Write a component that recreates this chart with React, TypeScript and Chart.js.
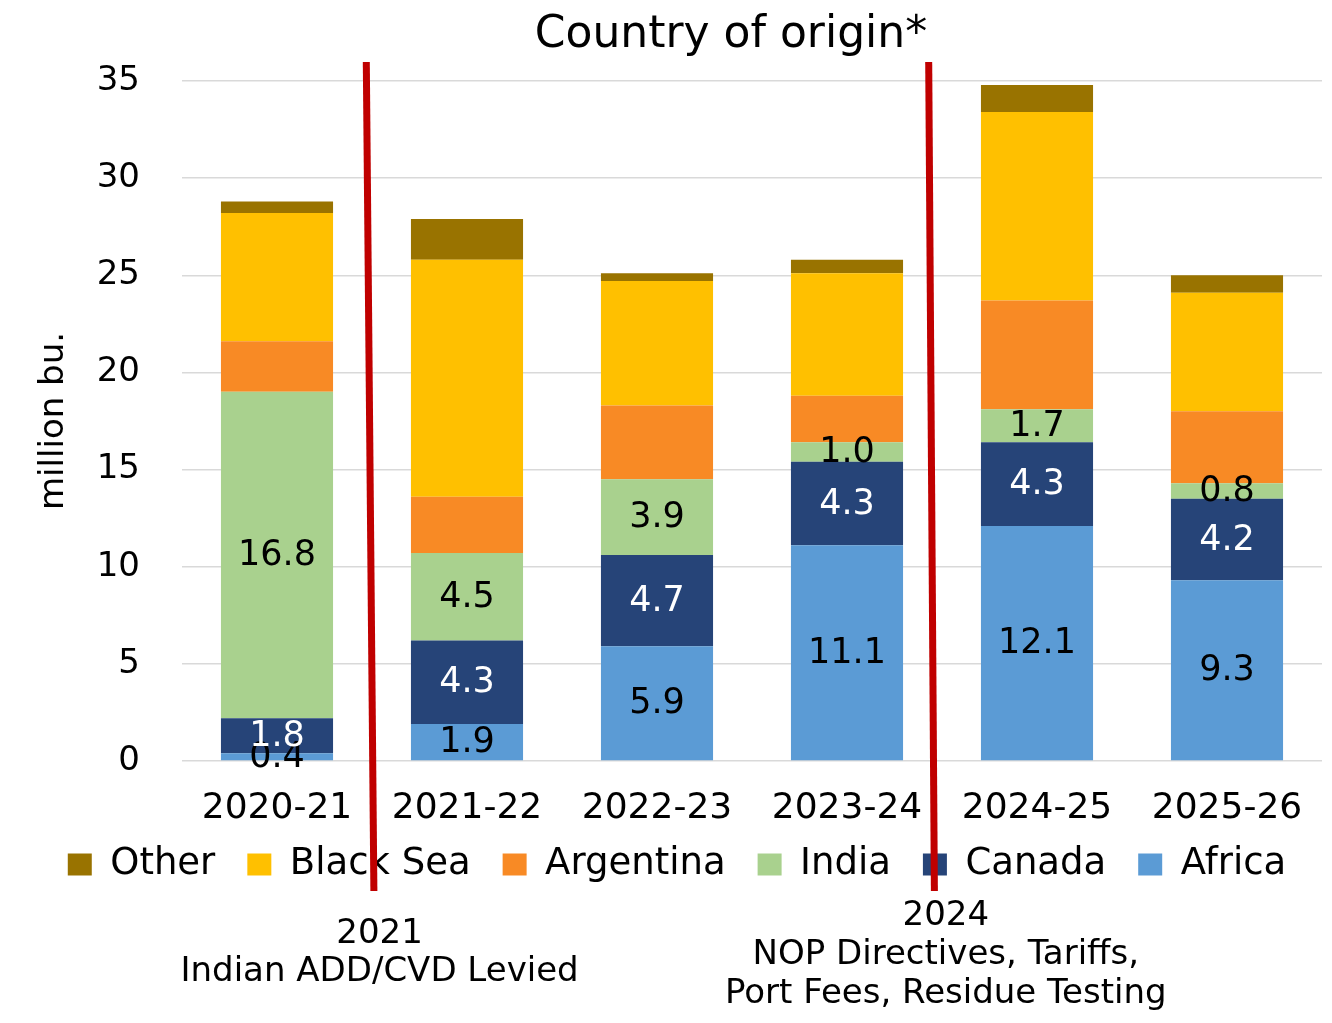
import React, { useEffect, useRef } from 'react';
import { Chart, registerables } from 'chart.js';

Chart.register(...registerables);

const FONT = 'DejaVu Sans';

// ---- data ----
const categories = ['2020-21', '2021-22', '2022-23', '2023-24', '2024-25', '2025-26'];
const africa = [0.4, 1.9, 5.9, 11.1, 12.1, 9.3];
const canada = [1.8, 4.3, 4.7, 4.3, 4.3, 4.2];
const india = [16.8, 4.5, 3.9, 1.0, 1.7, 0.8];
const argentina = [2.6, 2.9, 3.8, 2.4, 5.6, 3.7];
const blackSea = [6.6, 12.2, 6.4, 6.3, 9.7, 6.1];
const other = [0.6, 2.1, 0.4, 0.7, 1.4, 0.9];

const yTicks = [0, 5, 10, 15, 20, 25, 30, 35];

const titleText = 'Country of origin*';
const yTitle = 'million bu.';

// event markers (category-index positions of the red lines and their notes)
const eventLineTop = [0.47, 3.43];
const eventLineBottom = [0.51, 3.46];
const eventNoteX = [0.54, 3.52];
const eventNotes = [
  ['2021', 'Indian ADD/CVD Levied'],
  ['2024', 'NOP Directives, Tariffs,', 'Port Fees, Residue Testing'],
];

const COLORS = {
  africa: '#5B9BD5',
  canada: '#264478',
  india: '#A9D18E',
  argentina: '#F88A25',
  blackSea: '#FFC000',
  other: '#997300',
};

export default function App() {
  const ref = useRef<HTMLCanvasElement>(null);

  useEffect(() => {
    document.body.style.margin = '0';
    const canvas = ref.current!;

    const labelPlugin = {
      id: 'segLabels',
      afterDatasetsDraw(chart: any) {
        const ctx = chart.ctx;
        ctx.save();
        ctx.font = `35px "${FONT}"`;
        ctx.textAlign = 'center';
        ctx.textBaseline = 'middle';
        chart.data.datasets.forEach((ds: any, di: number) => {
          if (!ds.showLabels) return;
          const meta = chart.getDatasetMeta(di);
          meta.data.forEach((bar: any, i: number) => {
            const v = ds.data[i];
            const cy = (bar.y + bar.base) / 2;
            ctx.fillStyle = ds.labelColor;
            ctx.fillText(v.toFixed(1), bar.x, cy + 1);
          });
        });
        ctx.restore();
      },
    };

    const legendShift = {
      id: 'legendShift',
      afterLayout(chart: any) {
        const lg = chart.legend;
        if (!lg) return;
        lg.top -= 22;
        lg.bottom -= 22;
        lg.left += 16;
        lg.right += 16;
      },
    };

    const decorPlugin = {
      id: 'decor',
      afterDraw(chart: any) {
        const ctx = chart.ctx;
        const xs = chart.scales.x;
        ctx.save();
        // title
        ctx.fillStyle = '#000';
        ctx.font = `44px "${FONT}"`;
        ctx.textAlign = 'center';
        ctx.textBaseline = 'alphabetic';
        ctx.fillText(titleText, 731, 47);

        // event notes
        ctx.font = `34px "${FONT}"`;
        const baseY = [[943, 981], [925, 964, 1003]];
        eventNotes.forEach((lines, ei) => {
          const x = xs.getPixelForValue(eventNoteX[ei]);
          lines.forEach((t, li) => ctx.fillText(t, x, baseY[ei][li]));
        });

        // red lines
        ctx.strokeStyle = '#C00000';
        ctx.lineWidth = 7;
        ctx.lineCap = 'butt';
        eventLineTop.forEach((t, i) => {
          ctx.beginPath();
          ctx.moveTo(xs.getPixelForValue(t), 62);
          ctx.lineTo(xs.getPixelForValue(eventLineBottom[i]), 891);
          ctx.stroke();
        });
        ctx.restore();
      },
    };

    const mk = (label: string, data: number[], color: string, showLabels = false, labelColor = '#000') => ({
      label,
      data,
      backgroundColor: color,
      borderWidth: 0,
      showLabels,
      labelColor,
    });

    const chart = new Chart(canvas, {
      type: 'bar',
      data: {
        labels: categories,
        datasets: [
          mk('Africa', africa, COLORS.africa, true, '#000'),
          mk('Canada', canada, COLORS.canada, true, '#fff'),
          mk('India', india, COLORS.india, true, '#000'),
          mk('Argentina', argentina, COLORS.argentina),
          mk('Black Sea', blackSea, COLORS.blackSea),
          mk('Other', other, COLORS.other),
        ] as any,
      },
      options: {
        animation: false,
        responsive: false,
        layout: { padding: { top: 81, left: 0, right: 10, bottom: 108 } },
        datasets: { bar: { barPercentage: 0.59, categoryPercentage: 1 } },
        plugins: {
          title: { display: false },
          tooltip: { enabled: false },
          legend: {
            position: 'bottom',
            reverse: true,
            labels: {
              font: { family: FONT, size: 37 },
              color: '#000',
              boxWidth: 24,
              boxHeight: 22,
              padding: 32,
            },
          },
        },
        scales: {
          x: {
            stacked: true,
            grid: { display: false, drawTicks: false },
            border: { display: false },
            ticks: { font: { family: FONT, size: 36 }, color: '#000', padding: 26, maxRotation: 0 },
            afterFit(s: any) { s.height = 75; },
          },
          y: {
            stacked: true,
            min: 0,
            max: 35,
            afterBuildTicks(s: any) { s.ticks = yTicks.map((v) => ({ value: v })); },
            grid: { color: '#D9D9D9', lineWidth: 1.5, drawTicks: false },
            border: { display: false },
            ticks: { font: { family: FONT, size: 34 }, color: '#000', padding: 42 },
            title: {
              display: true,
              text: yTitle,
              font: { family: FONT, size: 34 },
              color: '#000',
              padding: { top: 34, bottom: 0 },
            },
            afterFit(s: any) { s.width = 182; },
          },
        },
      } as any,
      plugins: [labelPlugin, legendShift, decorPlugin],
    });

    return () => chart.destroy();
  }, []);

  return (
    <div style={{ width: 1332, height: 1023, background: '#fff' }}>
      <canvas ref={ref} width={1332} height={1023} style={{ display: 'block', width: 1332, height: 1023 }} />
    </div>
  );
}
